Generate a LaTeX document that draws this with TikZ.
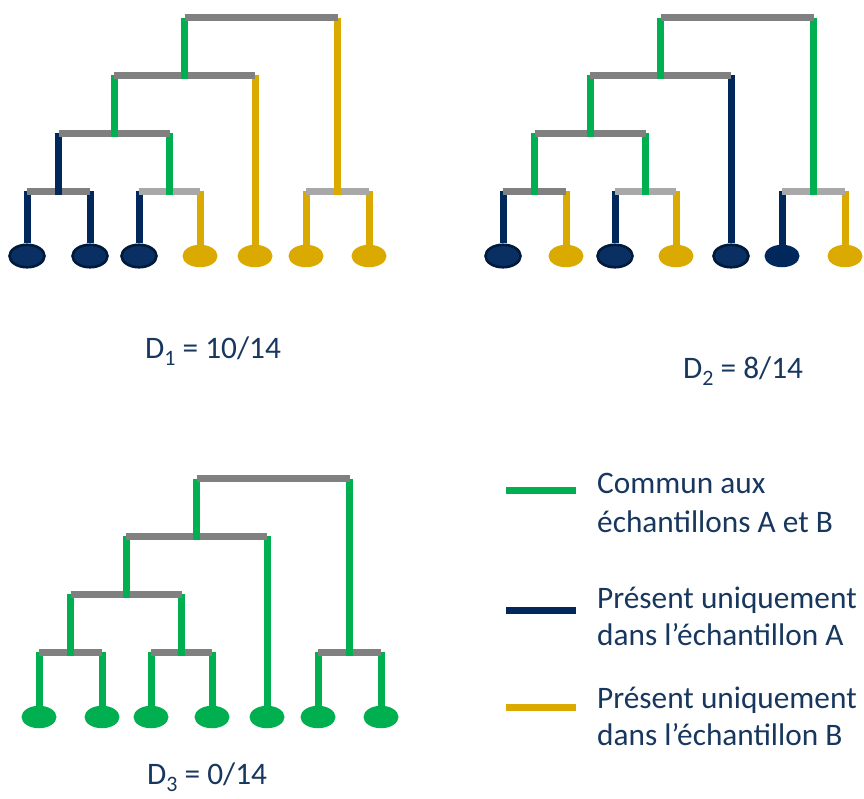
\documentclass[tikz,border=0pt]{standalone}
\usepackage{fontspec}
\setmainfont{Carlito}
\usetikzlibrary{shapes.geometric}

\definecolor{cgreen}{HTML}{00B050}
\definecolor{cyellow}{HTML}{DAAA00}
\definecolor{cnavy}{HTML}{00285A}
\definecolor{cnavyedge}{HTML}{001A3C}
\definecolor{cnavyfill}{HTML}{0A2F62}
\definecolor{cgray}{HTML}{808080}
\definecolor{clight}{HTML}{A8A8A8}
\definecolor{ctext}{HTML}{17375E}

% lowered index digit, as in D_1 (kept out of the line's height and depth)
\newcommand\lowidx[1]{\raisebox{-7pt}[0pt][0pt]{\fontsize{22}{22}\selectfont #1}}

% skeleton of one seven-leaf dendrogram; colours come from the styles
% lf1..lf7 (leaves), el1..el7 (leaf edges), ea..ee (inner edges),
% ba..br (horizontal bars)
\newcommand\dendro[1]{%
  \coordinate (#1a) at (58.5,191);
  \coordinate (#1b) at (169.5,191);
  \coordinate (#1c) at (337.5,191);
  \coordinate (#1d) at (114,133);
  \coordinate (#1e) at (184.5,75);
  \coordinate (#1r) at (261,17.5);
  \node[leafnode,lf1] (#1l1) at (27,256) {};
  \node[leafnode,lf2] (#1l2) at (90,256) {};
  \node[leafnode,lf3] (#1l3) at (139,256) {};
  \node[leafnode,lf4] (#1l4) at (200,256) {};
  \node[leafnode,lf5] (#1l5) at (255,256) {};
  \node[leafnode,lf6] (#1l6) at (306,256) {};
  \node[leafnode,lf7] (#1l7) at (369,256) {};
  % leaf edges under the lowest bars
  \draw[edge,el1] (#1l1 |- #1a) -- (#1l1.north);
  \draw[edge,el2] (#1l2 |- #1a) -- (#1l2.north);
  \draw[edge,el3] (#1l3 |- #1b) -- (#1l3.north);
  \draw[edge,el4] (#1l4 |- #1b) -- (#1l4.north);
  \draw[edge,el6] (#1l6 |- #1c) -- (#1l6.north);
  \draw[edge,el7] (#1l7 |- #1c) -- (#1l7.north);
  \draw[hbar,ba] (#1l1 |- #1a) -- (#1l2 |- #1a);
  \draw[hbar,bb] (#1l3 |- #1b) -- (#1l4 |- #1b);
  \draw[hbar,bc] (#1l6 |- #1c) -- (#1l7 |- #1c);
  % third level
  \draw[edge,ea] (#1a |- #1d) -- ([yshift=-3.5pt]#1a);
  \draw[edge,eb] (#1b |- #1d) -- ([yshift=-3.5pt]#1b);
  \draw[hbar,bd] (#1a |- #1d) -- (#1b |- #1d);
  % second level
  \draw[edge,ed] (#1d |- #1e) -- ([yshift=-3.5pt]#1d);
  \draw[edge,el5] (#1l5 |- #1e) -- (#1l5.north);
  \draw[hbar,be] (#1d |- #1e) -- (#1l5 |- #1e);
  % root
  \draw[edge,ee] (#1e |- #1r) -- ([yshift=-3.5pt]#1e);
  \draw[edge,ec] (#1c |- #1r) -- ([yshift=-3.5pt]#1c);
  \draw[hbar,br] (#1e |- #1r) -- (#1c |- #1r);
}

\tikzset{
  edge/.style={line width=7pt},
  hbar/.style={line width=7pt, draw=cgray},
  leafnode/.style={ellipse, inner sep=0pt, minimum width=35pt, minimum height=22.5pt},
  navyleaf/.style={fill=cnavyfill, draw=cnavyedge, line width=2.6pt},
  navyplain/.style={fill=cnavy},
  yellowleaf/.style={fill=cyellow},
  greenleaf/.style={fill=cgreen},
  G/.style={draw=cgreen}, N/.style={draw=cnavy}, Y/.style={draw=cyellow},
  lightbar/.style={draw=clight},
  legline/.style={line width=7pt},
  legtext/.style={anchor=base west, inner sep=0pt, text=ctext,
    font=\fontsize{31.3}{37}\selectfont},
  allgreen/.style={
    lf1/.style=greenleaf, lf2/.style=greenleaf, lf3/.style=greenleaf,
    lf4/.style=greenleaf, lf5/.style=greenleaf, lf6/.style=greenleaf,
    lf7/.style=greenleaf,
    el1/.style=G, el2/.style=G, el3/.style=G, el4/.style=G, el5/.style=G,
    el6/.style=G, el7/.style=G,
    ea/.style=G, eb/.style=G, ec/.style=G, ed/.style=G, ee/.style=G,
    ba/.style={}, bb/.style={}, bc/.style={}, bd/.style={}, be/.style={},
    br/.style={}},
}

\begin{document}
\begin{tikzpicture}[x=1pt, y=-1pt]
\useasboundingbox (0,0) rectangle (864,798);

% first tree
\begin{scope}[allgreen,
  lf1/.style=navyleaf, lf2/.style=navyleaf, lf3/.style=navyleaf,
  lf4/.style=yellowleaf, lf5/.style=yellowleaf, lf6/.style=yellowleaf,
  lf7/.style=yellowleaf,
  el1/.style=N, el2/.style=N, el3/.style=N, el4/.style=Y, el5/.style=Y,
  el6/.style=Y, el7/.style=Y,
  ea/.style=N, ec/.style=Y,
  bb/.style=lightbar, bc/.style=lightbar]
  \dendro{p}
\end{scope}

% second tree
\begin{scope}[shift={(476,0)}, allgreen,
  lf1/.style=navyleaf, lf2/.style=yellowleaf, lf3/.style=navyleaf,
  lf4/.style=yellowleaf, lf5/.style=navyleaf, lf6/.style=navyplain,
  lf7/.style=yellowleaf,
  el1/.style=N, el2/.style=Y, el3/.style=N, el4/.style=Y, el5/.style=N,
  el6/.style=N, el7/.style=Y,
  bb/.style=lightbar, bc/.style=lightbar]
  \dendro{q}
\end{scope}

% third tree
\begin{scope}[shift={(12,461)}, allgreen]
  \dendro{s}
\end{scope}

% distances
\node[legtext] (d1) at (145,358) {D\lowidx{1} = 10/14};
\node[legtext] (d2) at (683,378) {D\lowidx{2} = 8/14};
\node[legtext] (d3) at (147,784) {D\lowidx{3} = 0/14};

% legend
\draw[legline, cgreen] (506,490) -- (576,490);
\draw[legline, cnavy] (506,610) -- (576,610);
\draw[legline, cyellow] (506,707) -- (576,707);
\node[legtext] (g1) at (597,493) {Commun aux};
\node[legtext] (g2) at (597,532) {échantillons A et B};
\node[legtext] (n1) at (597,608) {Présent uniquement};
\node[legtext] (n2) at (597,645) {dans l’échantillon A};
\node[legtext] (y1) at (597,708) {Présent uniquement};
\node[legtext] (y2) at (597,745) {dans l’échantillon B};
\end{tikzpicture}
\end{document}
